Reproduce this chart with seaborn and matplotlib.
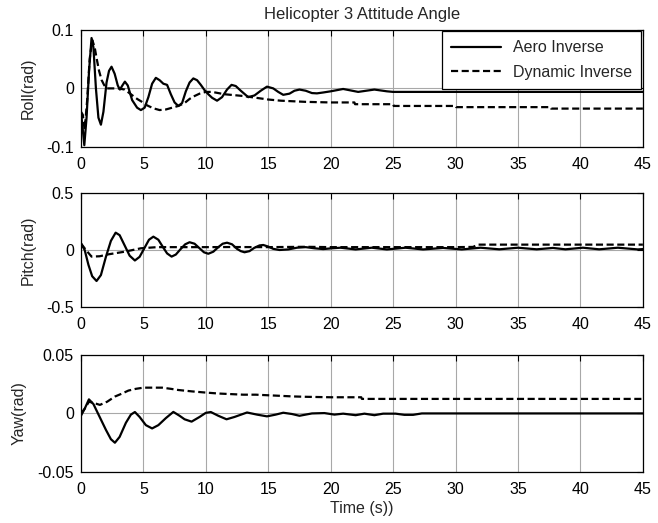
import matplotlib
matplotlib.use("Agg")
import matplotlib.pyplot as plt
import seaborn as sns

# ---- data ----
roll_aero_t = [0, 0.1, 0.27, 0.45, 0.65, 0.85, 1.0, 1.2, 1.4, 1.6, 1.8, 2.05, 2.25, 2.45, 2.7,
               2.95, 3.12, 3.35, 3.52, 3.75, 4.1, 4.5, 4.8, 5.1, 5.4, 5.7, 6.0, 6.3, 6.6, 6.9,
               7.2, 7.5, 7.8, 8.1, 8.4, 8.7, 9.0, 9.3, 9.6, 9.9, 10.2, 10.5, 10.9, 11.3, 11.7,
               12.06, 12.4, 12.8, 13.4, 13.9, 14.4, 14.9, 15.4, 15.8, 16.2, 16.7, 17.1, 17.5,
               18.0, 18.5, 18.9, 19.4, 20.0, 21.0, 22.2, 23.5, 24.5, 25.0, 45.0]
roll_aero = [-0.04, -0.06, -0.097, -0.05, 0.03, 0.086, 0.07, 0.0, -0.05, -0.062, -0.04, 0.01,
             0.03, 0.037, 0.025, 0.005, -0.002, 0.006, 0.0115, 0.005, -0.02, -0.033, -0.037,
             -0.033, -0.015, 0.008, 0.018, 0.014, 0.008, 0.006, -0.01, -0.024, -0.03, -0.025,
             -0.005, 0.01, 0.017, 0.014, 0.006, -0.003, -0.01, -0.016, -0.021, -0.015, -0.002,
             0.006, 0.004, -0.004, -0.015, -0.012, -0.004, 0.003, 0.0, -0.006, -0.011, -0.009,
             -0.004, -0.002, -0.004, -0.008, -0.0085, -0.007, -0.005, -0.001, -0.006, -0.002,
             -0.005, -0.006, -0.006]

roll_dyn_t = [0, 0.15, 0.3, 0.5, 0.7, 0.9, 1.1, 1.25, 1.45, 1.65, 1.85, 2.05, 2.5, 3.0, 3.5,
              4.0, 4.5, 4.85, 5.3, 5.8, 6.3, 6.8, 7.3, 7.8, 8.3, 8.7, 9.0, 9.5, 10.0, 10.5,
              11.0, 11.5, 12.0, 13.0, 14.0, 15.0, 16.0, 17.0, 18.0, 20.0, 21.9, 21.95, 25.0,
              25.05, 30.0, 30.05, 37.6, 37.65, 45.0]
roll_dyn = [-0.04, -0.045, -0.07, -0.02, 0.05, 0.083, 0.07, 0.052, 0.03, 0.0145, 0.006, 0.0,
            0.0, 0.0, -0.002, -0.01, -0.018, -0.0225, -0.029, -0.034, -0.037, -0.036, -0.033,
            -0.03, -0.025, -0.018, -0.014, -0.009, -0.006, -0.006, -0.008, -0.01, -0.011,
            -0.013, -0.016, -0.019, -0.021, -0.022, -0.023, -0.024, -0.024, -0.027, -0.027,
            -0.030, -0.030, -0.032, -0.032, -0.0345, -0.0345]

pitch_aero_t = [0, 0.3, 0.6, 0.9, 1.25, 1.6, 2.0, 2.4, 2.78, 3.1, 3.5, 3.9, 4.32, 4.7, 5.1,
                5.45, 5.8, 6.2, 6.6, 6.9, 7.26, 7.6, 8.0, 8.35, 8.7, 9.1, 9.5, 9.85, 10.2, 10.6,
                11.0, 11.35, 11.7, 12.1, 12.5, 12.8, 13.1, 13.5, 13.9, 14.3, 14.6, 15.0, 15.4,
                15.9, 16.6, 17.3, 18.0, 18.7, 19.4, 20.1, 20.8, 22.0, 23.3, 24.5, 26.0, 27.4,
                29.0, 30.5, 32.0, 33.5, 35.0, 36.5, 37.8, 38.8, 40.2, 41.5, 43.0, 44.6, 45.0]
pitch_aero = [0.058, 0.0, -0.13, -0.23, -0.272, -0.22, -0.06, 0.08, 0.152, 0.13, 0.04, -0.05,
              -0.092, -0.06, 0.02, 0.09, 0.117, 0.09, 0.02, -0.03, -0.058, -0.04, 0.01, 0.05,
              0.068, 0.055, 0.015, -0.02, -0.033, -0.015, 0.025, 0.055, 0.064, 0.05, 0.01,
              -0.01, -0.02, -0.01, 0.02, 0.04, 0.044, 0.03, 0.01, 0.0, 0.005, 0.02, 0.025,
              0.015, 0.008, 0.015, 0.02, 0.005, 0.02, 0.005, 0.02, 0.005, 0.018, 0.005, 0.02,
              0.006, 0.02, 0.006, 0.018, 0.006, 0.02, 0.006, 0.02, 0.005, 0.008]

pitch_dyn_t = [0, 0.4, 0.85, 1.5, 2.2, 3.5, 4.8, 6.1, 8.0, 10.0, 12.0, 15.0, 18.0, 20.0, 25.0,
               30.0, 31.4, 31.8, 45.0]
pitch_dyn = [0.058, 0.0, -0.058, -0.055, -0.038, -0.015, 0.015, 0.025, 0.025, 0.025, 0.026,
             0.025, 0.028, 0.025, 0.025, 0.025, 0.027, 0.047, 0.047]

yaw_aero_t = [0, 0.3, 0.64, 1.0, 1.5, 2.0, 2.4, 2.72, 3.1, 3.6, 4.0, 4.32, 4.7, 5.2, 5.7, 6.2,
              6.8, 7.4, 7.9, 8.3, 8.86, 9.5, 10.0, 10.4, 11.0, 11.66, 12.3, 13.3, 14.1, 14.9,
              15.6, 16.2, 16.9, 17.5, 18.5, 19.5, 20.3, 21.0, 22.0, 22.7, 23.5, 24.2, 25.2,
              25.9, 26.6, 27.3, 45.0]
yaw_aero = [-0.002, 0.004, 0.012, 0.008, -0.003, -0.014, -0.022, -0.025, -0.02, -0.008,
            -0.001, 0.0012, -0.003, -0.01, -0.0128, -0.01, -0.004, 0.0013, -0.002, -0.005,
            -0.007, -0.003, 0.0005, 0.0012, -0.002, -0.005, -0.003, 0.0008, -0.001, -0.0025,
            -0.001, 0.0006, -0.0005, -0.002, 0.0, 0.0003, -0.001, -0.0002, -0.0015, -0.0002,
            -0.0015, -0.0002, -0.0002, -0.0012, -0.0012, 0.0, 0.0]

yaw_dyn_t = [0, 0.3, 0.64, 1.0, 1.52, 2.1, 2.72, 3.3, 3.8, 4.4, 5.0, 5.8, 6.5, 7.2, 7.8, 8.9,
             10.0, 11.0, 12.0, 13.0, 14.0, 15.0, 16.0, 17.0, 18.0, 19.0, 20.0, 22.45, 22.5,
             45.0]
yaw_dyn = [0.0, 0.004, 0.010, 0.009, 0.0073, 0.01, 0.0144, 0.017, 0.0195, 0.021, 0.022, 0.022,
           0.022, 0.021, 0.020, 0.0188, 0.0178, 0.017, 0.0165, 0.016, 0.016, 0.0155, 0.015,
           0.0145, 0.0142, 0.014, 0.0138, 0.0138, 0.0124, 0.0124]

x_ticks = [0, 5, 10, 15, 20, 25, 30, 35, 40, 45]
ylabels = ["Roll(rad)", "Pitch(rad)", "Yaw(rad)"]
y_ticks = [[-0.1, 0, 0.1], [-0.5, 0, 0.5], [-0.05, 0, 0.05]]
y_ticklabels = [["-0.1", "0", "0.1"], ["-0.5", "0", "0.5"], ["-0.05", "0", "0.05"]]
series = [
    (roll_aero_t, roll_aero, roll_dyn_t, roll_dyn),
    (pitch_aero_t, pitch_aero, pitch_dyn_t, pitch_dyn),
    (yaw_aero_t, yaw_aero, yaw_dyn_t, yaw_dyn),
]

sns.set_style("white")
plt.rcParams["font.family"] = ["Liberation Sans", "DejaVu Sans"]
plt.rcParams["axes.unicode_minus"] = False
plt.rcParams["font.size"] = 11.5

fig = plt.figure(figsize=(6.58, 5.23), dpi=100)
boxes = [[0.123, 0.719, 0.854, 0.224],
         [0.123, 0.413, 0.854, 0.218],
         [0.123, 0.0975, 0.854, 0.224]]

for i, (ta, ya, td, yd) in enumerate(series):
    ax = fig.add_axes(boxes[i])
    sns.lineplot(x=ta, y=ya, ax=ax, color="black", lw=1.6, label="Aero Inverse",
                 estimator=None, sort=False)
    sns.lineplot(x=td, y=yd, ax=ax, color="black", lw=1.6, linestyle=(0, (3.2, 1.6)),
                 label="Dynamic Inverse", estimator=None, sort=False)
    ax.set_xlim(0, 45)
    ax.set_ylim(y_ticks[i][0], y_ticks[i][-1])
    ax.set_xticks(x_ticks)
    ax.set_xticklabels([str(v) for v in x_ticks])
    ax.set_yticks(y_ticks[i])
    ax.set_yticklabels(y_ticklabels[i])
    ax.grid(True, color="#a8a8a8", lw=0.8)
    ax.tick_params(direction="in", top=True, right=True, length=4, width=0.8,
                   colors="black", labelsize=11.5)
    ax.tick_params(axis="x", pad=7)
    ax.tick_params(axis="y", pad=5)
    for s in ax.spines.values():
        s.set_color("black")
        s.set_linewidth(0.9)
    ax.set_ylabel(ylabels[i], fontsize=11.5, labelpad=8)
    if i == 0:
        ax.set_title("Helicopter 3 Attitude Angle", fontsize=12, pad=8)
        leg = ax.legend(loc="upper right", fancybox=False, edgecolor="black",
                        framealpha=1, handlelength=3.1, borderaxespad=0.1,
                        fontsize=11.5, labelspacing=0.6, borderpad=0.55)
        leg.get_frame().set_linewidth(0.9)
    else:
        ax.get_legend().remove()
    if i == 2:
        ax.set_xlabel("Time (s))", fontsize=11.5, labelpad=3)
    else:
        ax.set_xlabel("")

fig.savefig("out.png", dpi=100)
